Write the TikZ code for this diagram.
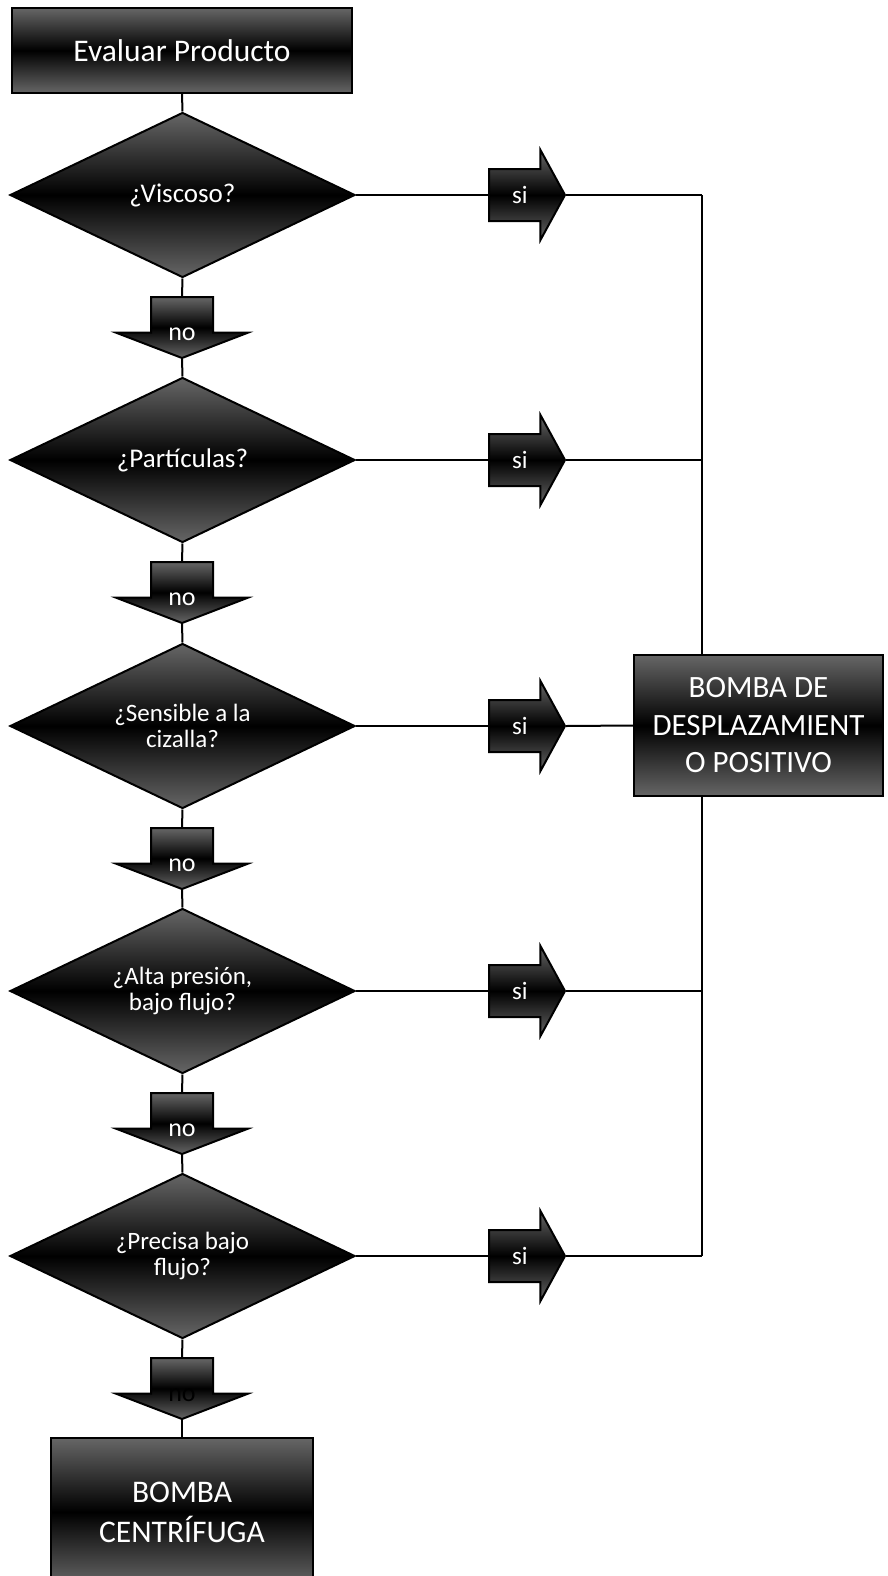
\documentclass[tikz,border=0pt]{standalone}
\usepackage{fontspec}
\setmainfont{Carlito}
\usetikzlibrary{shapes.geometric,shapes.arrows,backgrounds}
\definecolor{gris}{RGB}{102,102,102}
\tikzset{
	caja/.style={rectangle,draw=black,line width=2pt,top color=gris,bottom color=gris,middle color=black,text=white,align=center,font=\fontsize{31.5}{38}\selectfont},
	pregunta/.style={diamond,aspect=2,draw=black,line width=2pt,top color=gris,bottom color=gris,middle color=black,text=white,align=center,minimum width=345pt,minimum height=165pt,inner sep=0pt},
	flechasi/.style={single arrow,draw=black,line width=2pt,top color=gris,bottom color=gris,middle color=black,text=white,inner sep=0pt,text height=33pt,text depth=17pt,minimum height=76pt,minimum width=88pt,single arrow head extend=19pt,single arrow tip angle=122.8,anchor=tail,font=\fontsize{25}{30}\selectfont},
	flechano/.style={single arrow,shape border rotate=270,draw=black,line width=2pt,top color=gris,bottom color=gris,middle color=black,text=white,inner sep=0pt,text width=60pt,align=center,text height=38pt,text depth=-2pt,minimum height=61pt,minimum width=130pt,single arrow head extend=35pt,single arrow tip angle=138,anchor=tail,font=\fontsize{26}{30}\selectfont},
	linea/.style={draw=black,line width=2pt}
}
\begin{document}
\begin{tikzpicture}[x=1pt,y=-1pt]
	\useasboundingbox (0,0) rectangle (887,1576);
	\clip (0,0) rectangle (887,1576);
	\node[caja,minimum width=340pt,minimum height=85pt] (evaluar) at (182,50.5) {Evaluar Producto};
	\node[pregunta,font=\fontsize{27}{32}\selectfont] (viscoso) at (182.5,195) {¿Viscoso?};
	\node[pregunta,font=\fontsize{27}{32}\selectfont] (particulas) at (182.5,460) {¿Partículas?};
	\node[pregunta,font=\fontsize{25}{26.7}\selectfont] (cizalla) at (182.5,726) {¿Sensible a la\\cizalla?};
	\node[pregunta,font=\fontsize{25}{26.7}\selectfont] (presion) at (182.5,991) {¿Alta presión,\\bajo flujo?};
	\node[pregunta,font=\fontsize{25}{26.7}\selectfont] (precisa) at (182.5,1256) {¿Precisa bajo\\flujo?};
	\node[flechasi] (si1) at (488,195) {si};
	\node[flechasi] (si2) at (488,460) {si};
	\node[flechasi] (si3) at (488,726) {si};
	\node[flechasi] (si4) at (488,991) {si};
	\node[flechasi] (si5) at (488,1256) {si};
	\node[flechano] (no1) at (182,296) {no};
	\node[flechano] (no2) at (182,561) {no};
	\node[flechano] (no3) at (182,827) {no};
	\node[flechano] (no4) at (182,1092) {no};
	\node[flechano,text=black] (no5) at (182,1357) {no};
	\node[caja,minimum width=249pt,minimum height=141pt,font=\fontsize{31}{37.5}\selectfont] (desplazamiento) at (758.5,725.5) {BOMBA DE\\DESPLAZAMIENT\\O POSITIVO};
	\node[caja,minimum width=262pt,minimum height=148pt,font=\fontsize{31.5}{40}\selectfont] (centrifuga) at (182,1512) {BOMBA\\CENTRÍFUGA};
	\coordinate (bus1) at (702,195);
	\coordinate (bus2) at (702,460);
	\coordinate (bus4) at (702,991);
	\coordinate (bus5) at (702,1256);
	\begin{scope}[on background layer]
		\draw[linea] (evaluar.south) -- (viscoso.north);
		\draw[linea] (viscoso.south) -- (no1.tail);
		\draw[linea] (no1.tip) -- (particulas.north);
		\draw[linea] (particulas.south) -- (no2.tail);
		\draw[linea] (no2.tip) -- (cizalla.north);
		\draw[linea] (cizalla.south) -- (no3.tail);
		\draw[linea] (no3.tip) -- (presion.north);
		\draw[linea] (presion.south) -- (no4.tail);
		\draw[linea] (no4.tip) -- (precisa.north);
		\draw[linea] (precisa.south) -- (no5.tail);
		\draw[linea] (no5.tip) -- (centrifuga.north);
		\draw[linea] (viscoso.east) -- (si1.tail);
		\draw[linea] (particulas.east) -- (si2.tail);
		\draw[linea] (cizalla.east) -- (si3.tail);
		\draw[linea] (presion.east) -- (si4.tail);
		\draw[linea] (precisa.east) -- (si5.tail);
		\draw[linea] (si1.tip) -- (bus1);
		\draw[linea] (si2.tip) -- (bus2);
		\draw[linea] (si3.tip) -- (desplazamiento.west);
		\draw[linea] (si4.tip) -- (bus4);
		\draw[linea] (si5.tip) -- (bus5);
		\draw[linea] (bus1) -- (bus5);
	\end{scope}
\end{tikzpicture}
\end{document}
